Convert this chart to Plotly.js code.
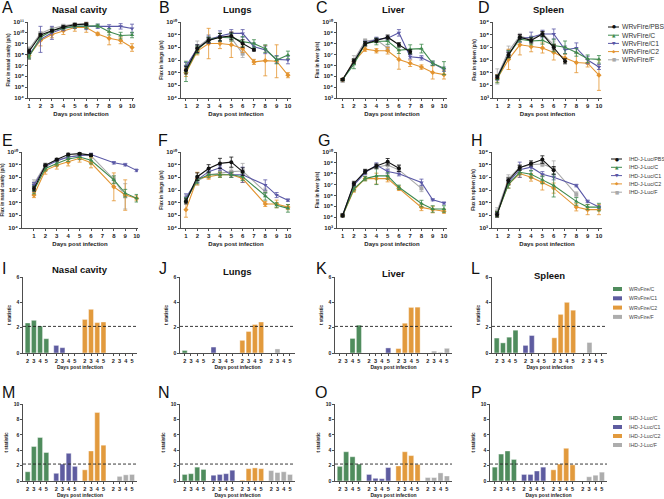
<!DOCTYPE html>
<html>
<head>
<meta charset="utf-8">
<script src="https://cdn.plot.ly/plotly-3.0.1.min.js"></script>
<style>
  html, body { margin: 0; padding: 0; background: #fff; }
  #chart { width: 664px; height: 499px; }
</style>
</head>
<body>
<div id="chart"></div>
<script>
// days imaged; the IHD-J-Luc groups were not imaged on day 7
const wrDays = [1, 2, 3, 4, 5, 6, 7, 8, 9, 10];
const ihdDays = [1, 2, 3, 4, 5, 6, 8, 9, 10];
const dayTicks = [1, 2, 3, 4, 5, 6, 7, 8, 9, 10];

const wrNames = ["WRvFire/PBS", "WRvFire/C", "WRvFire/C1", "WRvFire/C2", "WRvFire/F"];
const ihdNames = ["IHD-J-Luc/PBS", "IHD-J-Luc/C", "IHD-J-Luc/C1", "IHD-J-Luc/C2", "IHD-J-Luc/F"];

// mean flux as log10(p/s), rows: PBS, C, C1, C2, F
const wrNasal = [
  [8.3, 9.8, 10.2, 10.55, 10.75, 10.8, null, null, null, null],
  [7.8, 9.6, 10.2, 10.45, 10.6, 10.6, 10.65, 10.1, 9.75, 9.8],
  [8.0, 9.4, 10.0, 10.4, 10.6, 10.6, 10.6, 10.55, 10.6, 10.4],
  [7.9, 9.3, 9.85, 10.2, 10.5, 10.5, 9.9, 9.5, 9.3, 8.65],
  [8.5, 9.95, 10.4, 10.65, 10.8, 10.85, null, null, null, null],
];
const wrNasalErr = [
  [0.2, 0.15, 0.1, 0.1, 0.1, 0.1, 0, 0, 0, 0],
  [0.2, 0.2, 0.15, 0.15, 0.15, 0.2, 0.15, 0.3, 0.3, 0.25],
  [0.4, 1.2, 0.6, 0.2, 0.2, 0.3, 0.2, 0.2, 0.25, 0.4],
  [0.3, 0.5, 0.3, 0.35, 0.35, 0.45, 0.15, 0.6, 0.3, 0.35],
  [0.2, 0.15, 0.1, 0.1, 0.1, 0.2, 0, 0, 0, 0],
];
const wrLungs = [
  [6.2, 7.9, 8.55, 8.8, 8.9, 8.3, 7.8, null, null, null],
  [6.1, 7.8, 8.6, 8.8, 8.8, 8.45, 8.3, 7.9, 7.0, 7.4],
  [6.5, 7.9, 8.6, 8.9, 9.1, 9.1, 8.05, 7.8, 7.05, 7.0],
  [6.0, 7.7, 8.3, 8.3, 8.2, 7.9, 6.85, 6.95, 6.9, 5.8],
  [6.3, 8.0, 8.7, 8.8, 8.75, 7.5, null, null, null, null],
];
const wrLungsErr = [
  [0.3, 0.3, 0.2, 0.3, 0.3, 0.3, 0.1, 0, 0, 0],
  [0.8, 0.3, 0.2, 0.3, 0.3, 0.4, 0.3, 0.3, 0.3, 0.3],
  [0.3, 0.3, 0.3, 0.4, 0.3, 0.3, 0.3, 0.3, 0.3, 0.3],
  [0.3, 0.3, 1.2, 0.4, 1.0, 0.3, 0.2, 1.2, 1.3, 0.2],
  [0.3, 0.5, 0.3, 0.3, 0.3, 0.3, 0, 0, 0, 0],
];
const wrLiver = [
  [4.7, 6.4, 8.0, 8.3, 8.6, 7.9, 7.25, null, null, null],
  [4.7, 6.1, 8.0, 8.2, 8.25, 7.4, 7.5, 7.55, 6.2, 5.75],
  [4.7, 6.3, 8.05, 8.4, 8.5, 9.0, 6.8, 6.7, 6.2, 5.65],
  [4.7, 6.35, 7.5, 7.35, 7.35, 6.55, 6.2, 5.85, 5.35, 5.15],
  [4.6, 6.5, 8.25, 8.35, 7.6, null, null, null, null, null],
];
const wrLiverErr = [
  [0.1, 0.2, 0.2, 0.2, 0.2, 0.2, 0.2, 0, 0, 0],
  [0.1, 0.4, 0.2, 0.3, 0.3, 0.3, 0.4, 0.4, 0.2, 0.6],
  [0.1, 0.2, 0.2, 0.2, 0.2, 0.3, 0.2, 0.2, 0.2, 0.2],
  [0.1, 0.2, 0.2, 0.2, 0.3, 0.9, 0.3, 0.2, 0.6, 0.4],
  [0.15, 0.4, 0.2, 0.2, 0.3, 0, 0, 0, 0, 0],
];
const wrSpleen = [
  [4.65, 6.4, 7.8, 7.55, 8.05, 7.0, 5.9, null, null, null],
  [4.5, 6.45, 7.65, 7.5, 7.55, 7.15, 7.0, 6.6, 6.1, 6.05],
  [4.6, 6.5, 7.7, 7.8, 8.05, 8.05, 6.8, 6.95, 6.0, 5.45],
  [4.55, 6.05, 7.2, 7.05, 6.95, 6.6, 6.15, 5.8, 5.75, 4.8],
  [4.7, 6.7, 7.9, 7.6, 8.1, 7.2, null, null, null, null],
];
const wrSpleenErr = [
  [0.15, 0.2, 0.2, 0.2, 0.2, 0.2, 0.2, 0, 0, 0],
  [0.3, 0.3, 0.2, 0.3, 0.3, 0.5, 0.5, 0.3, 0.3, 0.3],
  [0.2, 0.2, 0.3, 0.4, 0.3, 0.4, 0.3, 0.4, 0.3, 0.2],
  [0.3, 0.8, 0.8, 0.4, 0.4, 0.6, 0.3, 0.8, 0.3, 1.2],
  [0.6, 0.4, 0.2, 0.3, 0.2, 0.3, 0, 0, 0, 0],
];

const ihdNasal = [
  [7.1, 8.95, 9.4, 9.8, 9.87, 9.75, null, null, null],
  [7.0, 8.7, 9.1, 9.45, 9.6, 9.35, 7.8, 6.75, 6.35],
  [7.4, 8.85, 9.3, 9.6, 9.7, 9.8, 9.15, 9.0, 8.55],
  [6.6, 8.55, 8.95, 9.2, 9.5, 9.15, 7.25, 6.6, 6.35],
  [7.5, 9.0, 9.35, 9.6, 9.75, 9.7, 7.85, 6.5, null],
];
const ihdNasalErr = [
  [0.2, 0.1, 0.1, 0.1, 0.1, 0.1, 0, 0, 0],
  [0.3, 0.2, 0.2, 0.2, 0.2, 0.3, 0.3, 0.3, 0.3],
  [0.2, 0.1, 0.1, 0.1, 0.1, 0.1, 0.1, 0.1, 0.1],
  [0.2, 0.3, 0.3, 0.3, 0.3, 0.4, 1.1, 1.2, 0.2],
  [0.3, 0.1, 0.1, 0.1, 0.1, 0.2, 0.3, 1.0, 0],
];
const ihdLungs = [
  [6.1, 8.05, 8.7, 9.1, 9.2, 8.45, null, null, null],
  [6.2, 7.8, 8.2, 8.2, 8.2, 8.05, 6.5, 5.8, 5.55],
  [6.4, 7.8, 8.45, 8.75, 8.2, 8.2, 7.4, 6.6, 6.2],
  [5.45, 7.9, 8.05, 8.2, 8.2, 7.9, 5.9, 5.9, 5.65],
  [6.3, 7.7, 8.2, 8.35, 8.45, 8.5, 6.85, null, null],
];
const ihdLungsErr = [
  [0.2, 0.3, 0.3, 0.4, 0.4, 0.3, 0, 0, 0],
  [0.2, 0.3, 0.2, 0.2, 0.2, 0.3, 0.3, 0.2, 0.3],
  [0.3, 0.2, 0.2, 0.2, 0.2, 0.6, 0.4, 0.2, 0.1],
  [0.6, 0.5, 0.2, 0.2, 0.2, 0.3, 0.2, 0.3, 0.2],
  [0.3, 0.3, 0.3, 0.3, 0.3, 0.6, 0.3, 0, 0],
];
const ihdLiver = [
  [4.15, 7.1, 8.2, 8.7, 9.1, 8.5, null, null, null],
  [4.15, 6.6, 7.55, 7.8, 7.8, 6.75, 5.25, 4.75, 4.75],
  [4.15, 6.95, 8.1, 8.8, 8.2, 8.0, 7.2, 5.6, 5.3],
  [4.15, 6.5, 7.55, 7.55, 7.55, 6.65, 4.9, 4.7, 4.55],
  [4.2, 7.0, 8.2, 8.6, 8.8, 8.35, 6.65, null, null],
];
const ihdLiverErr = [
  [0.15, 0.2, 0.2, 0.2, 0.3, 0.3, 0, 0, 0],
  [0.1, 0.2, 0.2, 0.8, 0.3, 0.2, 0.3, 0.3, 0.3],
  [0.1, 0.2, 0.2, 0.2, 0.2, 0.2, 0.3, 0.1, 0.1],
  [0.1, 0.2, 0.2, 0.5, 0.3, 0.2, 0.3, 0.3, 0.2],
  [0.15, 0.2, 0.2, 0.2, 0.3, 0.4, 0.3, 0, 0],
];
const ihdSpleen = [
  [4.05, 6.75, 7.75, 8.1, 8.4, 7.55, null, null, null],
  [4.1, 6.45, 7.4, 7.25, 6.8, 6.35, 5.1, 4.65, 4.65],
  [4.1, 6.6, 7.6, 7.8, 7.25, 7.0, 6.35, 5.1, 4.65],
  [4.1, 6.45, 7.3, 7.0, 6.6, 6.15, 4.65, 4.45, 4.45],
  [4.3, 6.9, 7.8, 8.0, 8.05, 7.7, 5.65, null, null],
];
const ihdSpleenErr = [
  [0.2, 0.2, 0.2, 0.2, 0.3, 0.3, 0, 0, 0],
  [0.2, 0.3, 0.2, 0.3, 0.3, 0.9, 0.3, 0.2, 0.3],
  [0.1, 0.2, 0.6, 0.3, 0.2, 0.2, 0.1, 0.1, 0.1],
  [0.2, 0.3, 0.3, 0.3, 0.6, 0.4, 0.3, 0.4, 0.4],
  [0.3, 0.3, 0.2, 0.2, 0.2, 0.6, 0.2, 0, 0],
];

// t statistics vs PBS, rows: C, C1, C2, F; columns: days 2-5
const barDays = ["2", "3", "4", "5"];
const wrBarNames = ["WRvFire/C", "WRvFire/C1", "WRvFire/C2", "WRvFire/F"];
const ihdBarNames = ["IHD-J-Luc/C", "IHD-J-Luc/C1", "IHD-J-Luc/C2", "IHD-J-Luc/F"];
const tNasalWR = [[2.37, 2.58, 2.13, 1.13], [0.6, 0.42, 0, 0], [2.65, 3.45, 2.4, 2.45], [0, 0, 0, 0]];
const tLungsWR = [[0.2, 0, 0, 0], [0.47, 0, 0, 0], [1.0, 1.7, 2.25, 2.45], [0, 0.32, 0, 0]];
const tLiverWR = [[0, 0, 1.15, 2.2], [0, 0, 0, 0.4], [0.35, 2.35, 3.6, 3.62], [0, 0.15, 0.05, 0.37]];
const tSpleenWR = [[1.18, 0.8, 1.25, 1.8], [0.6, 1.38, 0, 0], [1.2, 3.05, 4.0, 3.38], [0, 0.83, 0, 0]];
const tNasalIHD = [[1.2, 4.48, 5.65, 3.7], [1.0, 2.2, 3.6, 1.9], [1.45, 3.9, 8.9, 4.65], [0, 0.6, 0.8, 0.85]];
const tLungsIHD = [[0.85, 0.95, 1.8, 1.5], [0.75, 0.85, 0.95, 1.4], [0.1, 1.6, 1.7, 1.6], [1.35, 1.1, 1.2, 0.85]];
const tLiverIHD = [[1.9, 3.8, 3.15, 2.2], [0.85, 0.35, 0.3, 1.75], [1.95, 3.8, 3.3, 2.15], [0.45, 0.45, 1.05, 0.65]];
const tSpleenIHD = [[1.8, 3.5, 3.9, 2.8], [0.85, 0.85, 1.3, 1.8], [1.45, 2.2, 4.25, 2.1], [0, 0.55, 0.75, 1.15]];
const tCriticalWR = 2.1;
const tCriticalIHD = 2.2;

const seriesColors = ["#111111", "#3f8a4e", "#5a58a6", "#e39430", "#a9a9a9"];
const seriesSymbols = ["circle", "triangle-up", "triangle-down", "diamond", "square"];
const legendGlyphs = ["\u25CF", "\u25B2", "\u25BC", "\u25C6", "\u25A0"];
const barColors = ["#4f8c5d", "#5e5ca0", "#e29a3d", "#adadad"];

const W = 664, H = 499;
const px = (v) => v / W;
const py = (v) => 1 - v / H;
const font = 'Arial, "Liberation Sans", sans-serif';
const ink = "#222222";

// "10" with a unicode superscript exponent, e.g. 10¹¹
const supDigits = "\u2070\u00B9\u00B2\u00B3\u2074\u2075\u2076\u2077\u2078\u2079";
const powerLabel = (k) => "10" + String(k).split("").map((c) => supDigits[+c]).join("");

const traces = [];
const layout = {
  width: W,
  height: H,
  margin: { l: 0, r: 0, t: 0, b: 0 },
  paper_bgcolor: "#fff",
  plot_bgcolor: "#fff",
  showlegend: false,
  font: { family: font, color: ink },
  shapes: [],
  annotations: [],
};

function lineAxes(n, box, xRange, yRange, yTitle) {
  const [x0, x1, top, bottom] = box;
  const exps = [];
  for (let k = yRange[0]; k <= yRange[1]; k++) exps.push(k);
  layout["xaxis" + n] = {
    domain: [px(x0), px(x1)], anchor: "y" + n, range: xRange,
    tickvals: dayTicks, ticks: "outside", ticklen: 2, tickwidth: 0.8, tickcolor: ink,
    tickfont: { size: 6, color: ink, weight: "bold" }, showline: true, linewidth: 0.8, linecolor: ink,
    showgrid: false, zeroline: false, fixedrange: true,
    title: { text: "<b>Days post infection</b>", font: { size: 6, color: ink }, standoff: 3 },
  };
  layout["yaxis" + n] = {
    domain: [py(bottom), py(top)], anchor: "x" + n, type: "log", range: yRange,
    tickvals: exps.map((k) => Math.pow(10, k)), ticktext: exps.map(powerLabel),
    ticks: "outside", ticklen: 2, tickwidth: 0.8, tickcolor: ink,
    tickfont: { size: 6, color: ink, weight: "bold" }, showline: true, linewidth: 0.8, linecolor: ink,
    showgrid: false, zeroline: false, fixedrange: true,
    title: { text: "<b>" + yTitle + "</b>", font: { size: 4.6, color: ink }, standoff: 2 },
  };
}

function linePanel(n, xs, means, errs, box, xRange, yRange, yTitle) {
  [4, 3, 2, 1, 0].forEach((s) => {
    const m = means[s];
    const e = errs[s];
    traces.push({
      x: xs,
      y: m.map((v) => (v === null ? null : Math.pow(10, v))),
      type: "scatter",
      mode: "lines+markers",
      xaxis: "x" + n,
      yaxis: "y" + n,
      cliponaxis: false,
      line: { color: seriesColors[s], width: 1.1 },
      marker: { symbol: seriesSymbols[s], size: 4, color: seriesColors[s] },
      error_y: {
        type: "data", symmetric: false,
        array: m.map((v, i) => (v === null ? 0 : Math.pow(10, v + e[i]) - Math.pow(10, v))),
        arrayminus: m.map((v, i) => (v === null ? 0 : Math.pow(10, v) - Math.pow(10, v - e[i]))),
        color: seriesColors[s], thickness: 0.8, width: 2,
      },
    });
  });
  lineAxes(n, box, xRange, yRange, yTitle);
}

const groupStride = 4.6;
const barX = (g) => barDays.map((_, d) => g * groupStride + d);

function barPanel(n, values, box, yMax, critical) {
  const [x0, x1, top, bottom] = box;
  const tickvals = [];
  const ticktext = [];
  values.forEach((row, g) => {
    traces.push({
      x: barX(g), y: row, type: "bar", width: 0.8,
      xaxis: "x" + n, yaxis: "y" + n,
      marker: { color: barColors[g], line: { color: "#ffffff", width: 0.4 } },
    });
    barX(g).forEach((v, d) => { tickvals.push(v); ticktext.push(barDays[d]); });
  });
  layout["xaxis" + n] = {
    domain: [px(x0), px(x1)], anchor: "y" + n, range: [-0.75, 17.6],
    tickvals: tickvals, ticktext: ticktext, ticks: "outside", ticklen: 2, tickwidth: 0.8, tickcolor: ink,
    tickfont: { size: 5.6, color: ink, weight: "bold" }, showline: true, linewidth: 0.8, linecolor: ink,
    showgrid: false, zeroline: false, fixedrange: true,
    title: { text: "<b>Days post infection</b>", font: { size: 5, color: ink }, standoff: 2 },
  };
  layout["yaxis" + n] = {
    domain: [py(bottom), py(top)], anchor: "x" + n, range: [0, yMax], dtick: 2,
    ticks: "outside", ticklen: 2, tickwidth: 0.8, tickcolor: ink,
    tickfont: { size: 5, color: ink, weight: "bold" }, showline: true, linewidth: 0.8, linecolor: ink,
    showgrid: false, zeroline: false, fixedrange: true,
    title: { text: "<b>t statistic</b>", font: { size: 4.6, color: ink }, standoff: 4 },
  };
  layout.shapes.push({
    type: "line", xref: "x" + n + " domain", yref: "y" + n,
    x0: 0, x1: 1, y0: critical, y1: critical,
    line: { color: ink, width: 0.9, dash: "3px,2px" },
  });
}

// panels A-H
linePanel(1, wrDays, wrNasal, wrNasalErr, [28, 134, 22, 98], [0.91, 10.17], [4, 11], "Flux in nasal cavity (p/s)");
linePanel(2, wrDays, wrLungs, wrLungsErr, [181, 291, 22, 98], [0.56, 10.27], [4, 10], "Flux in lungs (p/s)");
linePanel(3, wrDays, wrLiver, wrLiverErr, [337, 447, 22, 98], [0.5, 10.27], [3, 10], "Flux in liver (p/s)");
linePanel(4, wrDays, wrSpleen, wrSpleenErr, [493, 602, 22, 98], [0.62, 10.27], [3, 9], "Flux in spleen (p/s)");
linePanel(5, ihdDays, ihdNasal, ihdNasalErr, [22, 138, 152, 228], [-0.05, 10.12], [4, 10], "Flux in nasal cavity (p/s)");
linePanel(6, ihdDays, ihdLungs, ihdLungsErr, [181, 291, 152, 228], [0.56, 10.27], [4, 10], "Flux in lungs (p/s)");
linePanel(7, ihdDays, ihdLiver, ihdLiverErr, [337, 447, 152, 228], [0.5, 10.27], [3, 10], "Flux in liver (p/s)");
linePanel(8, ihdDays, ihdSpleen, ihdSpleenErr, [492, 602, 152, 228], [0.55, 10.27], [3, 9], "Flux in spleen (p/s)");

// panels I-P
barPanel(9, tNasalWR, [23, 137, 277, 353], 6, tCriticalWR);
barPanel(10, tLungsWR, [180, 295, 277, 353], 6, tCriticalWR);
barPanel(11, tLiverWR, [335, 452, 277, 353], 6, tCriticalWR);
barPanel(12, tSpleenWR, [492, 607, 277, 353], 6, tCriticalWR);
barPanel(13, tNasalIHD, [23, 137, 404, 481], 10, tCriticalIHD);
barPanel(14, tLungsIHD, [180, 295, 404, 481], 10, tCriticalIHD);
barPanel(15, tLiverIHD, [335, 452, 404, 481], 10, tCriticalIHD);
barPanel(16, tSpleenIHD, [490, 607, 404, 481], 10, tCriticalIHD);

// panel letters
const letters = ["A", "B", "C", "D", "E", "F", "G", "H", "I", "J", "K", "L", "M", "N", "O", "P"];
const letterX = [0, 157, 314, 476, 0, 156, 316, 469, 0, 157, 314, 469, 0, 156, 313, 469];
const letterY = [7, 7, 7, 7, 140, 140, 140, 140, 268, 268, 268, 268, 392, 392, 392, 392];
letters.forEach((t, i) => {
  layout.annotations.push({
    xref: "paper", yref: "paper", x: px(letterX[i]), y: py(letterY[i]),
    xanchor: "left", yanchor: "middle", showarrow: false,
    text: t, font: { size: 16, color: "#111" },
  });
});

// organ titles
const organTitles = ["Nasal cavity", "Lungs", "Liver", "Spleen", "Nasal cavity", "Lungs", "Liver", "Spleen"];
const titleX = [80, 237, 393, 548, 80, 237, 393, 549];
const titleY = [9, 9, 9, 9, 269, 271, 273, 275];
organTitles.forEach((t, i) => {
  layout.annotations.push({
    xref: "paper", yref: "paper", x: px(titleX[i]), y: py(titleY[i]),
    xanchor: "center", yanchor: "middle", showarrow: false,
    text: "<b>" + t + "</b>", font: { size: 9.5, color: "#111" },
  });
});

// legends beside panels D, H, L, P
function lineLegend(names, x0, y0, step, textX, size) {
  names.forEach((name, i) => {
    const y = y0 + i * step;
    layout.shapes.push({
      type: "line", xref: "paper", yref: "paper",
      x0: px(x0), x1: px(x0 + 11), y0: py(y), y1: py(y),
      line: { color: seriesColors[i], width: 1 },
    });
    layout.annotations.push({
      xref: "paper", yref: "paper", x: px(x0 + 5.5), y: py(y),
      xanchor: "center", yanchor: "middle", showarrow: false,
      text: legendGlyphs[i], font: { family: "DejaVu Sans", size: 4.5, color: seriesColors[i] },
    });
    layout.annotations.push({
      xref: "paper", yref: "paper", x: px(textX), y: py(y),
      xanchor: "left", yanchor: "middle", showarrow: false,
      text: name, font: { size: size, color: "#333" },
    });
  });
}

function barLegend(names, x0, y0, step) {
  names.forEach((name, i) => {
    const y = y0 + i * step;
    layout.shapes.push({
      type: "rect", xref: "paper", yref: "paper",
      x0: px(x0), x1: px(x0 + 9), y0: py(y - 2), y1: py(y + 2),
      fillcolor: barColors[i], line: { width: 0 },
    });
    layout.annotations.push({
      xref: "paper", yref: "paper", x: px(x0 + 14), y: py(y),
      xanchor: "left", yanchor: "middle", showarrow: false,
      text: name, font: { size: 5.2, color: "#444" },
    });
  });
}

lineLegend(wrNames, 608, 27, 8.2, 620, 6.8);
lineLegend(ihdNames, 611, 159, 8.3, 627, 5.3);
barLegend(wrBarNames, 613, 289, 9.3);
barLegend(ihdBarNames, 613, 418, 9);

Plotly.newPlot("chart", traces, layout, { displayModeBar: false, staticPlot: true });
</script>
</body>
</html>
